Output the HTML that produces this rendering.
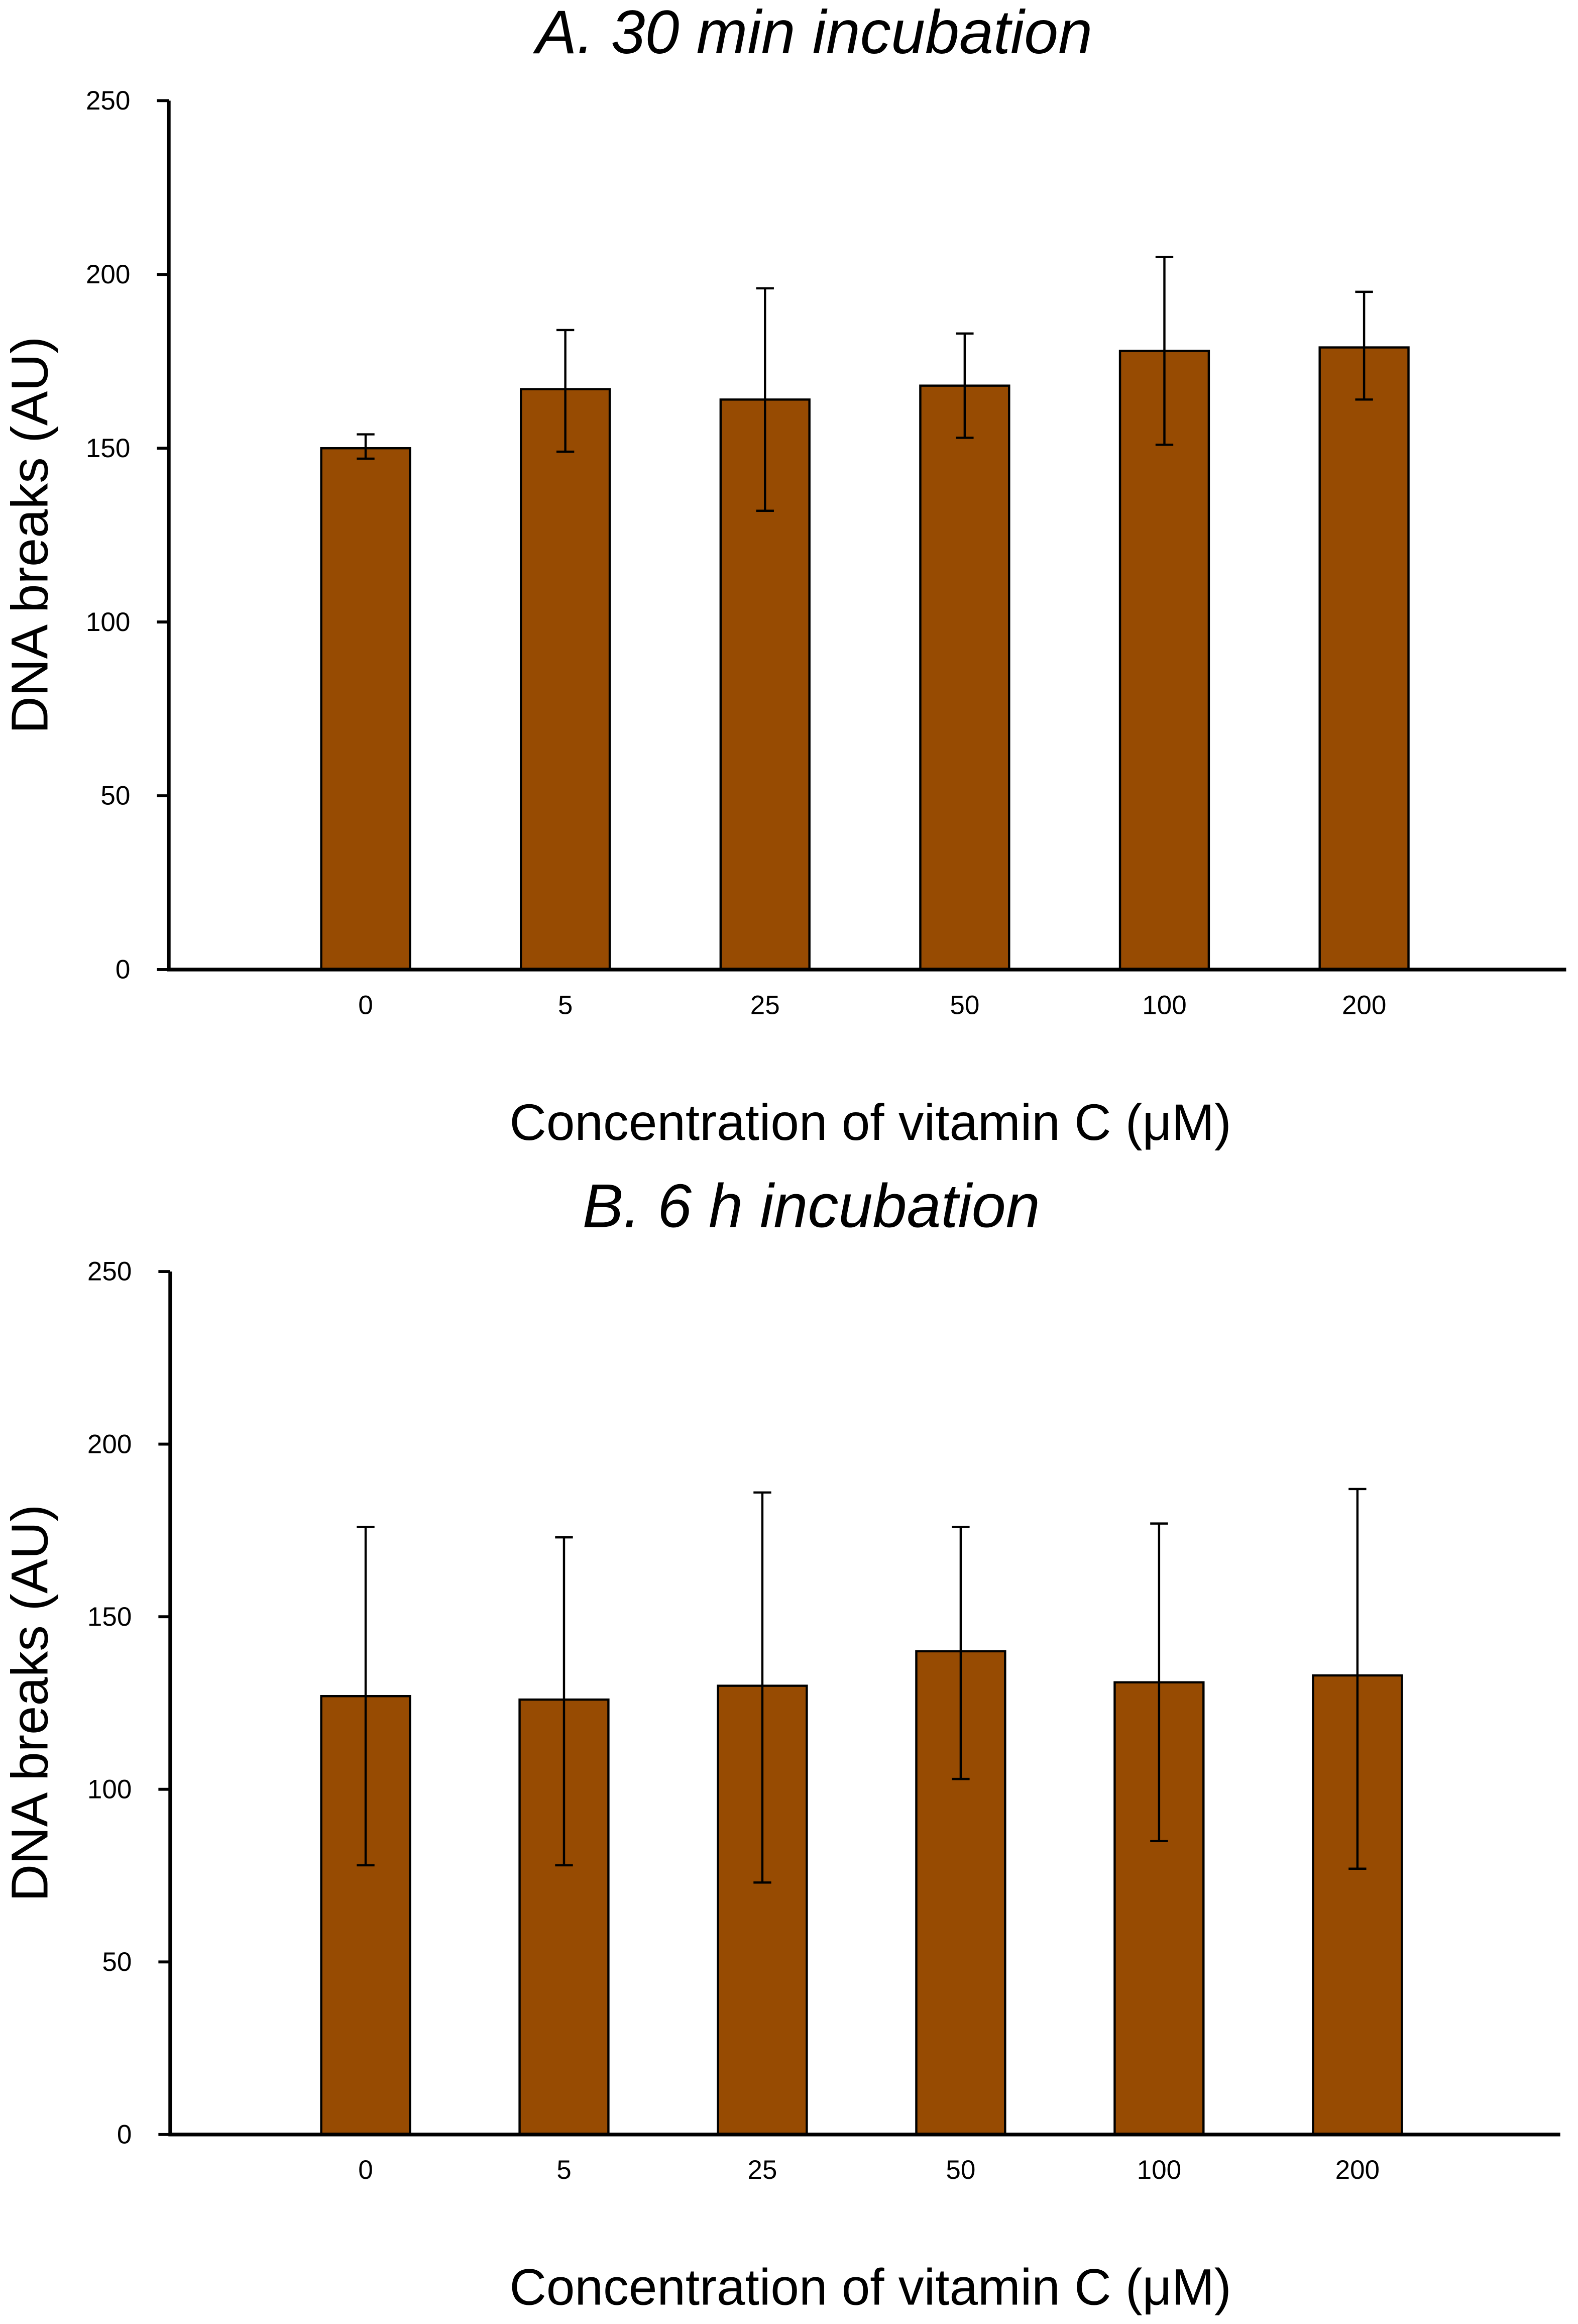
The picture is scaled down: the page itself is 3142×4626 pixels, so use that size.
<!DOCTYPE html>
<html><head><meta charset="utf-8"><style>
html,body{margin:0;padding:0;background:#fff}
svg{display:block}
text{font-family:"Liberation Sans",Arial,sans-serif;fill:#000}
</style></head><body>
<svg id="chart" width="3142" height="4626" viewBox="0 0 1066 1570" preserveAspectRatio="none" xmlns="http://www.w3.org/2000/svg"></svg>
<script>
const categories = ["0","5","25","50","100","200"];
const yTicks = [0,50,100,150,200,250];
const valuesA = [150,167,164,168,178,179];
const errTopA = [154,184,196,183,205,195];
const errBotA = [147,149,132,153,151,164];
const valuesB = [127,126,130,140,131,133];
const errTopB = [176,173,186,176,177,187];
const errBotB = [78,78,73,103,85,77];
const titleA = "A. 30 min incubation";
const titleB = "B. 6 h incubation";

const svg = document.getElementById('chart');
const NS = "http://www.w3.org/2000/svg";
function el(tag, attrs, txt){
  const e = document.createElementNS(NS, tag);
  for (const k in attrs) e.setAttribute(k, attrs[k]);
  if (txt !== undefined) e.textContent = txt;
  svg.appendChild(e);
  return e;
}

function panel(p, vals, tops, bots, title, key){
  const yS = v => p.y0 - (v/250)*(p.y0 - p.y250);
  const xS = i => p.c0 + i*p.step;
  let t = el('text',{x:p.tx,y:p.ty,'font-size':41.5,'font-style':'italic','text-anchor':'middle'},title);
  
  
  vals.forEach((v,i)=>{
    const r = el('rect',{x:xS(i)-30,y:yS(v),width:60,height:p.y0-yS(v),fill:'#974b02',stroke:'#000','stroke-width':1.5});
    
    
    const g = el('path',{d:`M${xS(i)},${yS(tops[i])}V${yS(bots[i])}M${xS(i)-6},${yS(tops[i])}H${xS(i)+6}M${xS(i)-6},${yS(bots[i])}H${xS(i)+6}`,stroke:'#000','stroke-width':1.5,fill:'none'});
    
    
    const l = el('text',{x:xS(i),y:p.y0+30,'font-size':18,'text-anchor':'middle'},categories[i]);
    
    
  });
  const ax = el('path',{d:`M${p.ax},${p.y250}V${p.y0}H${p.xend}`,stroke:'#000','stroke-width':2.5,fill:'none'});
  
  
  yTicks.forEach(v=>{
    const tk = el('line',{x1:p.ax-8,x2:p.ax,y1:yS(v),y2:yS(v),stroke:'#000','stroke-width':2});
    
    
    const tl = el('text',{x:p.ax-26,y:yS(v)+6,'font-size':18,'text-anchor':'end'},String(v));
    
    
  });
  const yl = el('text',{x:0,y:0,'font-size':35,'text-anchor':'middle',transform:`translate(32,${(p.y0+p.y250)/2}) rotate(-90)`},'DNA breaks (AU)');
  
  
  const xl = el('text',{x:588,y:p.xly,'font-size':34.5,'text-anchor':'middle'},'Concentration of vitamin C (\u03bcM)');
  
  
}

panel({y0:655,y250:68,ax:114,xend:1058,c0:247,step:134.9,tx:550,ty:36,xly:770}, valuesA, errTopA, errBotA, titleA, 'panel-a');
panel({y0:1442,y250:859,ax:115,xend:1054,c0:247,step:134,tx:548,ty:829,xly:1557}, valuesB, errTopB, errBotB, titleB, 'panel-b');
</script>
</body></html>
